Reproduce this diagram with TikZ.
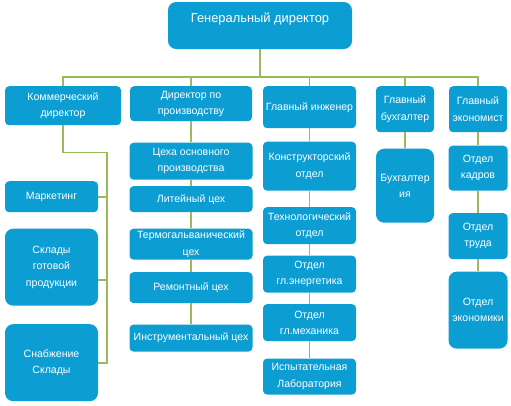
\documentclass[tikz,border=0pt]{standalone}
\usepackage{fontspec}
\setmainfont{Liberation Sans}
\usetikzlibrary{positioning}
\definecolor{boxblue}{RGB}{12,158,210}
\definecolor{linkgreen}{RGB}{155,187,89}

\begin{document}
\begin{tikzpicture}[
  box/.style={rectangle, fill=boxblue, rounded corners=3.5pt, inner sep=1pt,
              text=white, align=center, font=\fontsize{9}{14}\selectfont},
  tall/.style={box, rounded corners=7pt},
  link/.style={draw=linkgreen, line width=1.6pt}
]
\useasboundingbox (0,0) rectangle (15.33,-12.15);

% Head
\node[box, rounded corners=7pt, minimum width=5.52cm, minimum height=1.41cm,
      text height=0.3cm, text depth=0.51cm, font=\fontsize{11}{14}\selectfont]
      (gen) at (7.8,-0.765) {Генеральный директор};

% Deputies
\node[box, anchor=north, minimum width=3.48cm, minimum height=1.17cm] (kom) at (1.89,-2.58) {Коммерческий\\директор};
\node[box, anchor=north, minimum width=3.66cm, minimum height=1.05cm] (dir) at (5.73,-2.58) {Директор по\\производству};
\node[box, anchor=north, minimum width=2.79cm, minimum height=1.26cm] (eng) at (9.285,-2.58) {Главный инженер};
\node[box, anchor=north, minimum width=1.74cm, minimum height=1.38cm] (buh) at (12.15,-2.58) {Главный\\бухгалтер};
\node[box, anchor=north, minimum width=1.74cm, minimum height=1.38cm] (eco) at (14.34,-2.58) {Главный\\экономист};

% Commercial units
\node[box, anchor=north, minimum width=2.79cm, minimum height=0.93cm] (mkt) at (1.545,-5.43) {Маркетинг};
\node[tall, below=0.48cm of mkt, minimum width=2.79cm, minimum height=2.31cm] (skl) {Склады\\готовой\\продукции};
\node[tall, below=0.54cm of skl, minimum width=2.79cm, minimum height=2.31cm] (snb) {Снабжение\\Склады};

% Production
\node[box, below=0.63cm of dir, minimum width=3.69cm, minimum height=1.11cm] (osn) {Цеха основного\\производства};
\node[box, below=0.18cm of osn, minimum width=3.69cm, minimum height=0.78cm] (lit) {Литейный цех};
\node[box, below=0.48cm of lit, minimum width=3.69cm, minimum height=0.93cm] (trm) {Термогальванический\\цех};
\node[box, below=0.36cm of trm, minimum width=3.69cm, minimum height=0.93cm] (rem) {Ремонтный цех};
\node[box, below=0.63cm of rem, minimum width=3.69cm, minimum height=0.81cm] (ins) {Инструментальный цех};

% Engineering
\node[box, below=0.39cm of eng, minimum width=2.79cm, minimum height=1.47cm] (kon) {Конструкторский\\отдел};
\node[box, below=0.48cm of kon, minimum width=2.79cm, minimum height=1.11cm] (tex) {Технологический\\отдел};
\node[box, below=0.33cm of tex, minimum width=2.79cm, minimum height=1.11cm] (ene) {Отдел\\гл.энергетика};
\node[box, below=0.33cm of ene, minimum width=2.79cm, minimum height=1.11cm] (mex) {Отдел\\гл.механика};
\node[box, below=0.51cm of mex, minimum width=2.79cm, minimum height=1.08cm] (lab) {Испытательная\\Лаборатория};

% Accounting
\node[tall, below=0.48cm of buh, minimum width=1.74cm, minimum height=2.22cm] (bux) {Бухгалтер\\ия};

% Economics
\node[box, below=0.39cm of eco, minimum width=1.77cm, minimum height=1.35cm] (kad) {Отдел\\кадров};
\node[box, below=0.66cm of kad, minimum width=1.77cm, minimum height=1.38cm] (trd) {Отдел\\труда};
\node[tall, below=0.36cm of trd, minimum width=1.77cm, minimum height=2.31cm] (ekn) {Отдел\\экономики};

% Links
\foreach \n in {kom,dir,eng,buh,eco}
  \draw[link] (gen.south) -- ++(0,-0.84) -| (\n.north);
\draw[link] (kom.south) -- ++(0,-0.81) -| ([xshift=0.27cm]snb.east) -- (snb.east);
\draw[link] (mkt.east) -- ++(0.27,0);
\draw[link] ([yshift=-0.39cm]skl.east) -- ++(0.27,0);
\foreach \a/\b in {dir/osn,osn/lit,lit/trm,trm/rem,rem/ins,
                   eng/kon,kon/tex,tex/ene,ene/mex,mex/lab,
                   buh/bux,eco/kad,kad/trd,trd/ekn}
  \draw[link] (\a) -- (\b);
\end{tikzpicture}
\end{document}
